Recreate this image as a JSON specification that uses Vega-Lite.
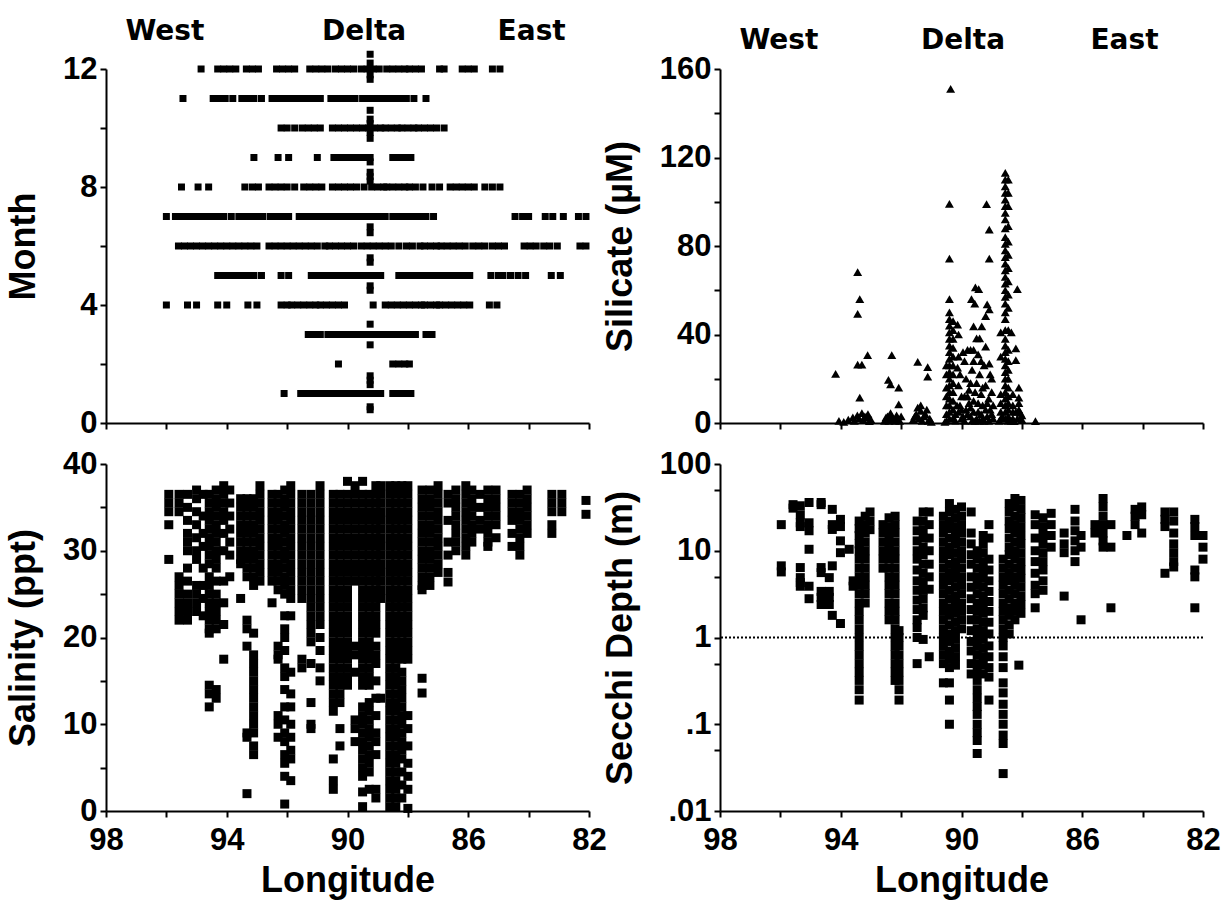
{
"$schema":"https://vega.github.io/schema/vega-lite/v6.json",
"padding":{"left":5,"top":17,"right":5,"bottom":5},
"background":"white",
"columns":2,
"bounds":"flush",
"spacing":{"row":41,"column":131},
"datasets":{
"regionsL":[{"lon":96.05,"label":"West"},{"lon":89.45,"label":"Delta"},{"lon":83.9,"label":"East"}],
"regionsR":[{"lon":96.05,"label":"West"},{"lon":89.95,"label":"Delta"},{"lon":84.6,"label":"East"}],
"refline":[{"v":1}],
"mon":[
{"lon":94.85,"v":12},{"lon":94.3,"v":12},{"lon":94.1,"v":12},{"lon":93.9,"v":12},{"lon":93.7,"v":12},{"lon":93.35,"v":12},{"lon":93.15,"v":12},{"lon":92.95,"v":12},{"lon":92.35,"v":12},{"lon":92.15,"v":12},{"lon":91.95,"v":12},{"lon":91.75,"v":12},{"lon":91.25,"v":12},{"lon":91.05,"v":12},{"lon":90.85,"v":12},{"lon":90.65,"v":12},{"lon":90.4,"v":12},{"lon":90.2,"v":12},{"lon":90.0,"v":12},{"lon":89.8,"v":12},{"lon":89.55,"v":12},{"lon":89.35,"v":12},{"lon":89.15,"v":12},{"lon":88.95,"v":12},{"lon":88.7,"v":12},{"lon":88.5,"v":12},{"lon":88.3,"v":12},{"lon":88.1,"v":12},{"lon":87.95,"v":12},{"lon":87.75,"v":12},{"lon":87.55,"v":12},{"lon":86.95,"v":12},{"lon":86.8,"v":12},{"lon":86.2,"v":12},{"lon":86.0,"v":12},{"lon":85.8,"v":12},{"lon":85.2,"v":12},{"lon":84.95,"v":12},
{"lon":95.45,"v":11},{"lon":94.45,"v":11},{"lon":94.25,"v":11},{"lon":94.05,"v":11},{"lon":93.8,"v":11},{"lon":93.5,"v":11},{"lon":93.3,"v":11},{"lon":93.1,"v":11},{"lon":92.85,"v":11},{"lon":92.5,"v":11},{"lon":92.3,"v":11},{"lon":92.1,"v":11},{"lon":91.9,"v":11},{"lon":91.7,"v":11},{"lon":91.5,"v":11},{"lon":91.3,"v":11},{"lon":91.1,"v":11},{"lon":90.9,"v":11},{"lon":90.55,"v":11},{"lon":90.35,"v":11},{"lon":90.15,"v":11},{"lon":89.95,"v":11},{"lon":89.75,"v":11},{"lon":89.5,"v":11},{"lon":89.3,"v":11},{"lon":89.1,"v":11},{"lon":88.95,"v":11},{"lon":88.85,"v":11},{"lon":88.65,"v":11},{"lon":88.45,"v":11},{"lon":88.25,"v":11},{"lon":88.05,"v":11},{"lon":87.8,"v":11},{"lon":87.4,"v":11},
{"lon":92.2,"v":10},{"lon":92.0,"v":10},{"lon":91.75,"v":10},{"lon":91.5,"v":10},{"lon":91.3,"v":10},{"lon":91.1,"v":10},{"lon":90.9,"v":10},{"lon":90.5,"v":10},{"lon":90.3,"v":10},{"lon":90.1,"v":10},{"lon":89.9,"v":10},{"lon":89.7,"v":10},{"lon":89.5,"v":10},{"lon":89.3,"v":10},{"lon":89.1,"v":10},{"lon":88.9,"v":10},{"lon":88.75,"v":10},{"lon":88.55,"v":10},{"lon":88.35,"v":10},{"lon":88.2,"v":10},{"lon":88.0,"v":10},{"lon":87.8,"v":10},{"lon":87.65,"v":10},{"lon":87.45,"v":10},{"lon":87.25,"v":10},{"lon":87.05,"v":10},{"lon":86.8,"v":10},
{"lon":93.1,"v":9},{"lon":92.3,"v":9},{"lon":91.95,"v":9},{"lon":91.0,"v":9},{"lon":90.45,"v":9},{"lon":90.25,"v":9},{"lon":90.05,"v":9},{"lon":89.85,"v":9},{"lon":89.65,"v":9},{"lon":89.45,"v":9},{"lon":89.25,"v":9},{"lon":88.5,"v":9},{"lon":88.3,"v":9},{"lon":88.1,"v":9},{"lon":87.9,"v":9},
{"lon":95.5,"v":8},{"lon":94.95,"v":8},{"lon":94.6,"v":8},{"lon":93.4,"v":8},{"lon":93.15,"v":8},{"lon":92.95,"v":8},{"lon":92.6,"v":8},{"lon":92.4,"v":8},{"lon":92.2,"v":8},{"lon":92.0,"v":8},{"lon":91.75,"v":8},{"lon":91.45,"v":8},{"lon":91.25,"v":8},{"lon":91.05,"v":8},{"lon":90.85,"v":8},{"lon":90.5,"v":8},{"lon":90.3,"v":8},{"lon":90.1,"v":8},{"lon":89.9,"v":8},{"lon":89.7,"v":8},{"lon":89.45,"v":8},{"lon":89.2,"v":8},{"lon":89.0,"v":8},{"lon":88.8,"v":8},{"lon":88.7,"v":8},{"lon":88.5,"v":8},{"lon":88.3,"v":8},{"lon":88.1,"v":8},{"lon":87.95,"v":8},{"lon":87.75,"v":8},{"lon":87.5,"v":8},{"lon":87.2,"v":8},{"lon":86.95,"v":8},{"lon":86.6,"v":8},{"lon":86.4,"v":8},{"lon":86.2,"v":8},{"lon":86.0,"v":8},{"lon":85.8,"v":8},{"lon":85.45,"v":8},{"lon":85.2,"v":8},{"lon":84.95,"v":8},
{"lon":96.0,"v":7},{"lon":95.7,"v":7},{"lon":95.5,"v":7},{"lon":95.3,"v":7},{"lon":95.1,"v":7},{"lon":94.9,"v":7},{"lon":94.7,"v":7},{"lon":94.5,"v":7},{"lon":94.3,"v":7},{"lon":94.1,"v":7},{"lon":93.85,"v":7},{"lon":93.6,"v":7},{"lon":93.4,"v":7},{"lon":93.2,"v":7},{"lon":93.0,"v":7},{"lon":92.8,"v":7},{"lon":92.55,"v":7},{"lon":92.35,"v":7},{"lon":92.15,"v":7},{"lon":91.95,"v":7},{"lon":91.6,"v":7},{"lon":91.4,"v":7},{"lon":91.2,"v":7},{"lon":91.0,"v":7},{"lon":90.8,"v":7},{"lon":90.6,"v":7},{"lon":90.45,"v":7},{"lon":90.25,"v":7},{"lon":90.05,"v":7},{"lon":89.85,"v":7},{"lon":89.65,"v":7},{"lon":89.5,"v":7},{"lon":89.3,"v":7},{"lon":89.1,"v":7},{"lon":88.95,"v":7},{"lon":88.75,"v":7},{"lon":88.5,"v":7},{"lon":88.3,"v":7},{"lon":88.1,"v":7},{"lon":87.9,"v":7},{"lon":87.75,"v":7},{"lon":87.6,"v":7},{"lon":87.4,"v":7},{"lon":87.15,"v":7},{"lon":84.45,"v":7},{"lon":84.2,"v":7},{"lon":84.0,"v":7},{"lon":83.45,"v":7},{"lon":83.2,"v":7},{"lon":82.85,"v":7},{"lon":82.35,"v":7},{"lon":82.1,"v":7},
{"lon":95.6,"v":6},{"lon":95.4,"v":6},{"lon":95.2,"v":6},{"lon":95.0,"v":6},{"lon":94.8,"v":6},{"lon":94.6,"v":6},{"lon":94.4,"v":6},{"lon":94.2,"v":6},{"lon":94.0,"v":6},{"lon":93.8,"v":6},{"lon":93.6,"v":6},{"lon":93.4,"v":6},{"lon":93.2,"v":6},{"lon":93.0,"v":6},{"lon":92.6,"v":6},{"lon":92.4,"v":6},{"lon":92.2,"v":6},{"lon":92.0,"v":6},{"lon":91.8,"v":6},{"lon":91.6,"v":6},{"lon":91.4,"v":6},{"lon":91.2,"v":6},{"lon":91.0,"v":6},{"lon":90.75,"v":6},{"lon":90.6,"v":6},{"lon":90.4,"v":6},{"lon":90.2,"v":6},{"lon":90.0,"v":6},{"lon":89.8,"v":6},{"lon":89.55,"v":6},{"lon":89.35,"v":6},{"lon":89.15,"v":6},{"lon":88.95,"v":6},{"lon":88.75,"v":6},{"lon":88.55,"v":6},{"lon":88.3,"v":6},{"lon":88.05,"v":6},{"lon":87.85,"v":6},{"lon":87.6,"v":6},{"lon":87.45,"v":6},{"lon":87.25,"v":6},{"lon":87.05,"v":6},{"lon":86.9,"v":6},{"lon":86.7,"v":6},{"lon":86.5,"v":6},{"lon":86.3,"v":6},{"lon":86.1,"v":6},{"lon":85.85,"v":6},{"lon":85.65,"v":6},{"lon":85.45,"v":6},{"lon":85.2,"v":6},{"lon":85.0,"v":6},{"lon":84.8,"v":6},{"lon":84.15,"v":6},{"lon":83.95,"v":6},{"lon":83.75,"v":6},{"lon":83.5,"v":6},{"lon":83.3,"v":6},{"lon":83.05,"v":6},{"lon":82.3,"v":6},{"lon":82.1,"v":6},
{"lon":94.3,"v":5},{"lon":94.1,"v":5},{"lon":93.9,"v":5},{"lon":93.7,"v":5},{"lon":93.5,"v":5},{"lon":93.3,"v":5},{"lon":93.1,"v":5},{"lon":92.85,"v":5},{"lon":92.2,"v":5},{"lon":91.95,"v":5},{"lon":91.2,"v":5},{"lon":91.0,"v":5},{"lon":90.85,"v":5},{"lon":90.65,"v":5},{"lon":90.5,"v":5},{"lon":90.3,"v":5},{"lon":90.1,"v":5},{"lon":89.9,"v":5},{"lon":89.7,"v":5},{"lon":89.5,"v":5},{"lon":89.3,"v":5},{"lon":89.1,"v":5},{"lon":88.9,"v":5},{"lon":88.3,"v":5},{"lon":88.1,"v":5},{"lon":87.9,"v":5},{"lon":87.7,"v":5},{"lon":87.5,"v":5},{"lon":87.3,"v":5},{"lon":87.1,"v":5},{"lon":86.95,"v":5},{"lon":86.75,"v":5},{"lon":86.55,"v":5},{"lon":86.35,"v":5},{"lon":86.15,"v":5},{"lon":85.95,"v":5},{"lon":85.25,"v":5},{"lon":85.0,"v":5},{"lon":84.85,"v":5},{"lon":84.6,"v":5},{"lon":84.35,"v":5},{"lon":84.1,"v":5},{"lon":83.25,"v":5},{"lon":82.95,"v":5},
{"lon":96.0,"v":4},{"lon":95.3,"v":4},{"lon":95.0,"v":4},{"lon":94.3,"v":4},{"lon":94.0,"v":4},{"lon":93.3,"v":4},{"lon":93.0,"v":4},{"lon":92.2,"v":4},{"lon":92.0,"v":4},{"lon":91.85,"v":4},{"lon":91.65,"v":4},{"lon":91.45,"v":4},{"lon":91.25,"v":4},{"lon":91.05,"v":4},{"lon":90.9,"v":4},{"lon":90.7,"v":4},{"lon":90.5,"v":4},{"lon":90.3,"v":4},{"lon":90.1,"v":4},{"lon":89.15,"v":4},{"lon":88.75,"v":4},{"lon":88.55,"v":4},{"lon":88.35,"v":4},{"lon":88.15,"v":4},{"lon":87.95,"v":4},{"lon":87.75,"v":4},{"lon":87.55,"v":4},{"lon":87.45,"v":4},{"lon":87.25,"v":4},{"lon":87.05,"v":4},{"lon":86.95,"v":4},{"lon":86.75,"v":4},{"lon":86.55,"v":4},{"lon":86.35,"v":4},{"lon":86.15,"v":4},{"lon":85.95,"v":4},{"lon":85.3,"v":4},{"lon":85.05,"v":4},
{"lon":91.3,"v":3},{"lon":91.1,"v":3},{"lon":90.9,"v":3},{"lon":90.65,"v":3},{"lon":90.45,"v":3},{"lon":90.25,"v":3},{"lon":90.05,"v":3},{"lon":89.95,"v":3},{"lon":89.75,"v":3},{"lon":89.6,"v":3},{"lon":89.5,"v":3},{"lon":89.3,"v":3},{"lon":89.1,"v":3},{"lon":88.9,"v":3},{"lon":88.8,"v":3},{"lon":88.6,"v":3},{"lon":88.4,"v":3},{"lon":88.3,"v":3},{"lon":88.1,"v":3},{"lon":87.9,"v":3},{"lon":87.75,"v":3},{"lon":87.4,"v":3},{"lon":87.2,"v":3},
{"lon":90.3,"v":2},{"lon":88.5,"v":2},{"lon":88.3,"v":2},{"lon":88.1,"v":2},{"lon":87.95,"v":2},
{"lon":92.1,"v":1},{"lon":91.55,"v":1},{"lon":91.35,"v":1},{"lon":91.15,"v":1},{"lon":90.95,"v":1},{"lon":90.8,"v":1},{"lon":90.6,"v":1},{"lon":90.45,"v":1},{"lon":90.25,"v":1},{"lon":90.05,"v":1},{"lon":89.85,"v":1},{"lon":89.65,"v":1},{"lon":89.45,"v":1},{"lon":89.3,"v":1},{"lon":89.1,"v":1},{"lon":88.9,"v":1},{"lon":88.5,"v":1},{"lon":88.3,"v":1},{"lon":88.1,"v":1},{"lon":87.9,"v":1},
{"lon":89.25,"v":12.5},{"lon":89.25,"v":12.2},{"lon":89.25,"v":11.8},{"lon":89.25,"v":11.65},{"lon":89.25,"v":10.6},{"lon":89.25,"v":10.3},{"lon":89.25,"v":10.15},{"lon":89.25,"v":9.85},{"lon":89.25,"v":9.65},{"lon":89.25,"v":8.85},{"lon":89.25,"v":8.5},{"lon":89.25,"v":8.35},{"lon":89.25,"v":8.2},{"lon":89.25,"v":6.65},{"lon":89.25,"v":6.45},{"lon":89.25,"v":5.6},{"lon":89.25,"v":5.45},{"lon":89.25,"v":4.65},{"lon":89.25,"v":4.5},{"lon":89.25,"v":3.35},{"lon":89.25,"v":2.65},{"lon":89.25,"v":1.6},{"lon":89.25,"v":1.45},{"lon":89.25,"v":1.3},{"lon":89.25,"v":0.55},{"lon":89.25,"v":0.45}
],
"sil":[
{"lon":94.17,"v":22.2},{"lon":94.06,"v":1.0},{"lon":93.9,"v":0.5},{"lon":93.75,"v":1.5},{"lon":93.6,"v":2.5},{"lon":93.45,"v":3.5},{"lon":93.3,"v":4.5},{"lon":93.2,"v":3.0},{"lon":93.1,"v":4.0},{"lon":93.0,"v":1.5},
{"lon":93.55,"v":1},{"lon":93.4,"v":2},{"lon":93.25,"v":1.5},{"lon":93.15,"v":2.5},{"lon":93.05,"v":0.8},
{"lon":93.44,"v":68.2},{"lon":93.37,"v":56},{"lon":93.44,"v":49.3},{"lon":93.44,"v":26.4},{"lon":93.3,"v":26.4},{"lon":93.11,"v":30.7},{"lon":93.37,"v":11.5},
{"lon":92.31,"v":30.7},{"lon":92.42,"v":19.5},{"lon":92.35,"v":17.5},{"lon":92.08,"v":16},{"lon":92.08,"v":8.4},{"lon":92.55,"v":1},{"lon":92.45,"v":3},{"lon":92.35,"v":4.5},{"lon":92.25,"v":2},{"lon":92.15,"v":3.5},{"lon":92.05,"v":1},
{"lon":92.5,"v":2.5},{"lon":92.4,"v":1},{"lon":92.3,"v":2.5},{"lon":92.2,"v":1},{"lon":92.1,"v":2},{"lon":92.0,"v":3},
{"lon":91.45,"v":27.6},{"lon":91.12,"v":25.3},{"lon":91.12,"v":21},{"lon":91.6,"v":1.5},{"lon":91.5,"v":4},{"lon":91.45,"v":7},{"lon":91.35,"v":5.5},{"lon":91.25,"v":3},{"lon":91.15,"v":6},{"lon":91.05,"v":2},{"lon":91.0,"v":0.5},
{"lon":91.55,"v":3},{"lon":91.4,"v":2},{"lon":91.3,"v":1},{"lon":91.2,"v":4},{"lon":91.1,"v":1},{"lon":91.35,"v":8},
{"lon":90.36,"v":151},{"lon":90.4,"v":99},{"lon":90.4,"v":74.3},{"lon":90.4,"v":56},{"lon":90.4,"v":50},{"lon":90.4,"v":47},{"lon":90.4,"v":44},{"lon":90.4,"v":41},{"lon":90.4,"v":38},{"lon":90.4,"v":35},{"lon":90.4,"v":32},{"lon":90.4,"v":29},{"lon":90.4,"v":26},{"lon":90.4,"v":23},{"lon":90.4,"v":20},{"lon":90.4,"v":17},{"lon":90.4,"v":14},{"lon":90.4,"v":11},{"lon":90.4,"v":8},{"lon":90.4,"v":5},{"lon":90.4,"v":2},
{"lon":90.5,"v":22},{"lon":90.5,"v":26},{"lon":90.5,"v":4},{"lon":90.5,"v":1},{"lon":90.5,"v":8},{"lon":90.5,"v":12},{"lon":90.5,"v":16},{"lon":90.55,"v":0.5},
{"lon":90.28,"v":46},{"lon":90.28,"v":42},{"lon":90.28,"v":38},{"lon":90.28,"v":34},{"lon":90.28,"v":30},{"lon":90.28,"v":26},{"lon":90.28,"v":22},{"lon":90.28,"v":18},{"lon":90.28,"v":14},{"lon":90.28,"v":10},{"lon":90.28,"v":6},{"lon":90.28,"v":2},
{"lon":90.13,"v":44.5},{"lon":90.1,"v":40},{"lon":90.1,"v":30},{"lon":90.13,"v":25},{"lon":90.05,"v":22},{"lon":90.1,"v":17},{"lon":90.0,"v":12},{"lon":90.05,"v":8},{"lon":90.1,"v":5},{"lon":90.0,"v":2},{"lon":89.95,"v":32},{"lon":89.9,"v":28},
{"lon":90.2,"v":1},{"lon":90.2,"v":4},{"lon":90.15,"v":8},{"lon":90.0,"v":6},{"lon":89.95,"v":3},{"lon":89.9,"v":1},{"lon":89.8,"v":4},{"lon":89.7,"v":7},{"lon":89.65,"v":1},{"lon":89.6,"v":5},{"lon":89.5,"v":2},{"lon":89.4,"v":1},{"lon":89.35,"v":4},{"lon":89.3,"v":2},{"lon":89.2,"v":6},{"lon":89.1,"v":1},{"lon":89.0,"v":4},{"lon":89.8,"v":12},{"lon":89.7,"v":18},{"lon":89.55,"v":14},{"lon":89.45,"v":9},{"lon":89.3,"v":16},{"lon":89.15,"v":9},{"lon":89.05,"v":22},{"lon":88.95,"v":8},
{"lon":89.8,"v":33},{"lon":89.7,"v":33},{"lon":89.6,"v":33},{"lon":89.54,"v":61.3},{"lon":89.43,"v":60.5},{"lon":89.67,"v":56},{"lon":89.56,"v":54},{"lon":89.6,"v":43.7},{"lon":89.5,"v":38.3},
{"lon":89.17,"v":98.9},{"lon":89.08,"v":87.4},{"lon":89.08,"v":74.3},{"lon":89.15,"v":53.6},{"lon":89.08,"v":51.3},{"lon":89.2,"v":48.3},{"lon":89.33,"v":43.7},{"lon":89.4,"v":38.3},{"lon":89.2,"v":34.5},{"lon":89.25,"v":26},{"lon":89.08,"v":26.8},
{"lon":89.85,"v":20},{"lon":89.75,"v":15},{"lon":89.65,"v":24},{"lon":89.6,"v":10},{"lon":89.5,"v":18},{"lon":89.45,"v":5},{"lon":89.4,"v":22},{"lon":89.35,"v":13},{"lon":89.3,"v":8},{"lon":89.2,"v":17},{"lon":89.15,"v":3},{"lon":89.1,"v":11},{"lon":89.05,"v":6},{"lon":89.0,"v":14},{"lon":88.95,"v":2},{"lon":89.85,"v":6},{"lon":89.7,"v":3},{"lon":89.55,"v":1},{"lon":89.9,"v":12},{"lon":89.35,"v":28},{"lon":89.6,"v":28},{"lon":89.45,"v":31},{"lon":89.0,"v":20},{"lon":89.25,"v":1},{"lon":89.75,"v":9},
{"lon":88.55,"v":113},{"lon":88.55,"v":110},{"lon":88.55,"v":107},{"lon":88.55,"v":104},{"lon":88.55,"v":101},{"lon":88.55,"v":98},{"lon":88.55,"v":95},{"lon":88.55,"v":92},{"lon":88.55,"v":88},{"lon":88.55,"v":84},{"lon":88.55,"v":81},{"lon":88.55,"v":78},{"lon":88.55,"v":75},{"lon":88.55,"v":72},{"lon":88.55,"v":69},{"lon":88.55,"v":66},{"lon":88.55,"v":63},{"lon":88.55,"v":60},{"lon":88.55,"v":57},{"lon":88.55,"v":54},{"lon":88.55,"v":50},{"lon":88.55,"v":47},{"lon":88.55,"v":42},{"lon":88.55,"v":38},{"lon":88.55,"v":35},{"lon":88.55,"v":32},{"lon":88.55,"v":29},{"lon":88.55,"v":26},{"lon":88.55,"v":23},{"lon":88.55,"v":20},{"lon":88.55,"v":17},{"lon":88.55,"v":14},{"lon":88.55,"v":11},{"lon":88.55,"v":8},{"lon":88.55,"v":5},{"lon":88.55,"v":2},
{"lon":88.45,"v":110},{"lon":88.45,"v":104},{"lon":88.45,"v":98},{"lon":88.45,"v":89},{"lon":88.45,"v":82},{"lon":88.45,"v":76},{"lon":88.45,"v":70},{"lon":88.45,"v":64},{"lon":88.45,"v":58},{"lon":88.45,"v":52},{"lon":88.45,"v":42},{"lon":88.45,"v":33},{"lon":88.45,"v":28},{"lon":88.45,"v":24},{"lon":88.45,"v":20},{"lon":88.45,"v":16},{"lon":88.45,"v":12},{"lon":88.45,"v":9},{"lon":88.45,"v":6},{"lon":88.45,"v":3},{"lon":88.45,"v":1},
{"lon":88.7,"v":13},{"lon":88.7,"v":9},{"lon":88.7,"v":5},{"lon":88.7,"v":2},{"lon":88.7,"v":30},{"lon":88.7,"v":41},
{"lon":88.75,"v":1},{"lon":88.65,"v":3},{"lon":88.35,"v":1},{"lon":88.3,"v":5},{"lon":88.25,"v":0.8},{"lon":88.15,"v":2},{"lon":88.1,"v":6},{"lon":88.0,"v":3.5},{"lon":88.1,"v":9},
{"lon":88.2,"v":33.7},{"lon":88.2,"v":28.4},{"lon":88.1,"v":16},{"lon":88.1,"v":11.5},{"lon":88.3,"v":8},{"lon":88.2,"v":5},{"lon":88.05,"v":4.6},{"lon":88.0,"v":1.5},{"lon":88.3,"v":2},{"lon":88.15,"v":60.5},{"lon":88.35,"v":41},{"lon":88.3,"v":13},{"lon":87.55,"v":0.8}
],
"sal":[
{"lon":95.92,"v":36.5},{"lon":95.92,"v":35.5},{"lon":95.92,"v":34.5},{"lon":95.92,"v":33},{"lon":95.92,"v":29},
{"lon":95.58,"v":36.5},{"lon":95.58,"v":35.5},{"lon":95.58,"v":34.5},{"lon":95.58,"v":27},{"lon":95.58,"v":26},{"lon":95.58,"v":25},{"lon":95.58,"v":24},{"lon":95.58,"v":23},{"lon":95.58,"v":22},
{"lon":95.3,"v":36.5},{"lon":95.3,"v":35},{"lon":95.3,"v":33.5},{"lon":95.3,"v":32},{"lon":95.3,"v":31},{"lon":95.3,"v":30},{"lon":95.3,"v":28},{"lon":95.3,"v":26.5},{"lon":95.3,"v":25},{"lon":95.3,"v":24},{"lon":95.3,"v":23},{"lon":95.3,"v":22},
{"lon":95.0,"v":37},{"lon":95.0,"v":36},{"lon":95.0,"v":34.5},{"lon":95.0,"v":33},{"lon":95.0,"v":31.5},{"lon":95.0,"v":30},{"lon":95.0,"v":29},{"lon":95.0,"v":26},{"lon":95.0,"v":25},{"lon":95.0,"v":24},{"lon":95.0,"v":23},
{"lon":94.78,"v":36.5},{"lon":94.78,"v":34},{"lon":94.78,"v":32},{"lon":94.78,"v":30.5},{"lon":94.78,"v":28},{"lon":94.78,"v":26},{"lon":94.78,"v":24.5},{"lon":94.78,"v":22.5},
{"lon":94.58,"v":36.5},{"lon":94.58,"v":35.5},{"lon":94.58,"v":34.5},{"lon":94.58,"v":33.5},{"lon":94.58,"v":32.5},{"lon":94.58,"v":31.5},{"lon":94.58,"v":30.5},{"lon":94.58,"v":29.5},{"lon":94.58,"v":28.5},{"lon":94.58,"v":27},{"lon":94.58,"v":26},{"lon":94.58,"v":25},{"lon":94.58,"v":24},{"lon":94.58,"v":23},{"lon":94.58,"v":22},{"lon":94.58,"v":21},{"lon":94.58,"v":20.5},{"lon":94.58,"v":14.5},{"lon":94.58,"v":13.5},{"lon":94.58,"v":12},
{"lon":94.35,"v":37},{"lon":94.35,"v":36},{"lon":94.35,"v":35},{"lon":94.35,"v":34},{"lon":94.35,"v":33},{"lon":94.35,"v":32},{"lon":94.35,"v":31},{"lon":94.35,"v":30},{"lon":94.35,"v":29},{"lon":94.35,"v":28},{"lon":94.35,"v":26.5},{"lon":94.35,"v":25},{"lon":94.35,"v":24},{"lon":94.35,"v":23},{"lon":94.35,"v":22},{"lon":94.35,"v":21},{"lon":94.35,"v":14},{"lon":94.35,"v":13},
{"lon":94.1,"v":37.5},{"lon":94.1,"v":36.5},{"lon":94.1,"v":35.5},{"lon":94.1,"v":34.5},{"lon":94.1,"v":33.5},{"lon":94.1,"v":32},{"lon":94.1,"v":30},{"lon":94.1,"v":26.5},{"lon":94.1,"v":24},{"lon":94.1,"v":21.5},{"lon":94.1,"v":17.5},
{"lon":93.9,"v":37},{"lon":93.9,"v":35.5},{"lon":93.9,"v":34},{"lon":93.9,"v":32.5},{"lon":93.9,"v":31},{"lon":93.9,"v":29.5},{"lon":93.9,"v":27},
{"lon":93.54,"v":36},{"lon":93.54,"v":35},{"lon":93.54,"v":34},{"lon":93.54,"v":33},{"lon":93.54,"v":32},{"lon":93.54,"v":31},{"lon":93.54,"v":30},{"lon":93.54,"v":29},{"lon":93.54,"v":28.5},{"lon":93.54,"v":24.5},
{"lon":93.33,"v":36},{"lon":93.33,"v":35},{"lon":93.33,"v":34},{"lon":93.33,"v":33},{"lon":93.33,"v":32},{"lon":93.33,"v":31},{"lon":93.33,"v":30},{"lon":93.33,"v":29},{"lon":93.33,"v":28},{"lon":93.33,"v":27},{"lon":93.33,"v":22},{"lon":93.33,"v":21},{"lon":93.33,"v":19},{"lon":93.33,"v":9},{"lon":93.33,"v":8.5},{"lon":93.33,"v":2},
{"lon":93.11,"v":36},{"lon":93.11,"v":35},{"lon":93.11,"v":34},{"lon":93.11,"v":33},{"lon":93.11,"v":32},{"lon":93.11,"v":31},{"lon":93.11,"v":30},{"lon":93.11,"v":29},{"lon":93.11,"v":28},{"lon":93.11,"v":27},{"lon":93.11,"v":26},{"lon":93.11,"v":20.5},{"lon":93.11,"v":18},{"lon":93.11,"v":17},{"lon":93.11,"v":16},{"lon":93.11,"v":15},{"lon":93.11,"v":14},{"lon":93.11,"v":13},{"lon":93.11,"v":12},{"lon":93.11,"v":11},{"lon":93.11,"v":10},{"lon":93.11,"v":9},{"lon":93.11,"v":7.5},{"lon":93.11,"v":6.5},
{"lon":92.9,"v":37.5},{"lon":92.9,"v":36.5},{"lon":92.9,"v":35.5},{"lon":92.9,"v":34.5},{"lon":92.9,"v":33.5},{"lon":92.9,"v":32.5},{"lon":92.9,"v":31.5},{"lon":92.9,"v":30.5},{"lon":92.9,"v":29.5},{"lon":92.9,"v":28.5},{"lon":92.9,"v":27.5},{"lon":92.9,"v":26.5},
{"lon":92.5,"v":36.5},{"lon":92.5,"v":35.5},{"lon":92.5,"v":34.5},{"lon":92.5,"v":33.5},{"lon":92.5,"v":32.5},{"lon":92.5,"v":31.5},{"lon":92.5,"v":30.5},{"lon":92.5,"v":29.5},{"lon":92.5,"v":28.5},{"lon":92.5,"v":27.5},{"lon":92.5,"v":26.5},{"lon":92.5,"v":24},
{"lon":92.3,"v":36.5},{"lon":92.3,"v":35.5},{"lon":92.3,"v":34.5},{"lon":92.3,"v":33.5},{"lon":92.3,"v":32.5},{"lon":92.3,"v":31.5},{"lon":92.3,"v":30.5},{"lon":92.3,"v":29.5},{"lon":92.3,"v":28.5},{"lon":92.3,"v":27.5},{"lon":92.3,"v":26.5},{"lon":92.3,"v":25.5},{"lon":92.3,"v":19},{"lon":92.3,"v":18},{"lon":92.3,"v":17.5},{"lon":92.3,"v":11},{"lon":92.3,"v":10},{"lon":92.3,"v":8.5},
{"lon":92.08,"v":37},{"lon":92.08,"v":36},{"lon":92.08,"v":35},{"lon":92.08,"v":34},{"lon":92.08,"v":33},{"lon":92.08,"v":32},{"lon":92.08,"v":31},{"lon":92.08,"v":30},{"lon":92.08,"v":29},{"lon":92.08,"v":28},{"lon":92.08,"v":27},{"lon":92.08,"v":26},{"lon":92.08,"v":25},{"lon":92.08,"v":22.5},{"lon":92.08,"v":21},{"lon":92.08,"v":20},{"lon":92.08,"v":18.5},{"lon":92.08,"v":16.5},{"lon":92.08,"v":15.5},{"lon":92.08,"v":14},{"lon":92.08,"v":12},{"lon":92.08,"v":10.5},{"lon":92.08,"v":9},{"lon":92.08,"v":8},{"lon":92.08,"v":6.5},{"lon":92.08,"v":5.5},{"lon":92.08,"v":4},{"lon":92.08,"v":0.8},
{"lon":91.88,"v":37.5},{"lon":91.88,"v":36.5},{"lon":91.88,"v":35.5},{"lon":91.88,"v":34.5},{"lon":91.88,"v":33.5},{"lon":91.88,"v":32.5},{"lon":91.88,"v":31.5},{"lon":91.88,"v":30.5},{"lon":91.88,"v":29.5},{"lon":91.88,"v":28.5},{"lon":91.88,"v":27.5},{"lon":91.88,"v":26.5},{"lon":91.88,"v":25.5},{"lon":91.88,"v":24.5},{"lon":91.88,"v":22.5},{"lon":91.88,"v":16},{"lon":91.88,"v":13.5},{"lon":91.88,"v":12},{"lon":91.88,"v":10},{"lon":91.88,"v":8.5},{"lon":91.88,"v":7},{"lon":91.88,"v":6},{"lon":91.88,"v":3.5},
{"lon":91.51,"v":36.5},{"lon":91.51,"v":35.5},{"lon":91.51,"v":34.5},{"lon":91.51,"v":33.5},{"lon":91.51,"v":32.5},{"lon":91.51,"v":31.5},{"lon":91.51,"v":30.5},{"lon":91.51,"v":29.5},{"lon":91.51,"v":28.5},{"lon":91.51,"v":27.5},{"lon":91.51,"v":26.5},{"lon":91.51,"v":25.5},{"lon":91.51,"v":24.5},{"lon":91.51,"v":17.5},{"lon":91.51,"v":16.5},
{"lon":91.21,"v":36.5},{"lon":91.21,"v":35.5},{"lon":91.21,"v":34.5},{"lon":91.21,"v":33.5},{"lon":91.21,"v":32.5},{"lon":91.21,"v":31.5},{"lon":91.21,"v":30.5},{"lon":91.21,"v":29.5},{"lon":91.21,"v":28.5},{"lon":91.21,"v":27.5},{"lon":91.21,"v":26.5},{"lon":91.21,"v":25.5},{"lon":91.21,"v":24.5},{"lon":91.21,"v":23.5},{"lon":91.21,"v":22.5},{"lon":91.21,"v":21.5},{"lon":91.21,"v":20.5},{"lon":91.21,"v":19.5},{"lon":91.21,"v":17},{"lon":91.21,"v":12.5},{"lon":91.21,"v":10},{"lon":91.21,"v":9.5},
{"lon":90.91,"v":37.5},{"lon":90.91,"v":36.5},{"lon":90.91,"v":35.5},{"lon":90.91,"v":34.5},{"lon":90.91,"v":33.5},{"lon":90.91,"v":32.5},{"lon":90.91,"v":31.5},{"lon":90.91,"v":30.5},{"lon":90.91,"v":29.5},{"lon":90.91,"v":28.5},{"lon":90.91,"v":27.5},{"lon":90.91,"v":26.5},{"lon":90.91,"v":25.5},{"lon":90.91,"v":24.5},{"lon":90.91,"v":23.5},{"lon":90.91,"v":22.5},{"lon":90.91,"v":21.5},{"lon":90.91,"v":20},{"lon":90.91,"v":18.5},{"lon":90.91,"v":16.5},{"lon":90.91,"v":15},
{"lon":90.47,"v":36.5},{"lon":90.47,"v":35.5},{"lon":90.47,"v":34.5},{"lon":90.47,"v":33.5},{"lon":90.47,"v":32.5},{"lon":90.47,"v":31.5},{"lon":90.47,"v":30.5},{"lon":90.47,"v":29.5},{"lon":90.47,"v":28.5},{"lon":90.47,"v":27.5},{"lon":90.47,"v":26.5},{"lon":90.47,"v":25.5},{"lon":90.47,"v":24.5},{"lon":90.47,"v":23.5},{"lon":90.47,"v":22.5},{"lon":90.47,"v":21.5},{"lon":90.47,"v":20.5},{"lon":90.47,"v":19.5},{"lon":90.47,"v":18.5},{"lon":90.47,"v":17.5},{"lon":90.47,"v":16.5},{"lon":90.47,"v":15.5},{"lon":90.47,"v":14.5},{"lon":90.47,"v":13.5},{"lon":90.47,"v":12.5},{"lon":90.47,"v":11.5},{"lon":90.47,"v":6},{"lon":90.47,"v":3.5},{"lon":90.47,"v":2.5},
{"lon":90.25,"v":36.5},{"lon":90.25,"v":35.5},{"lon":90.25,"v":34.5},{"lon":90.25,"v":33.5},{"lon":90.25,"v":32.5},{"lon":90.25,"v":31.5},{"lon":90.25,"v":30.5},{"lon":90.25,"v":29.5},{"lon":90.25,"v":28.5},{"lon":90.25,"v":27.5},{"lon":90.25,"v":26.5},{"lon":90.25,"v":25.5},{"lon":90.25,"v":24.5},{"lon":90.25,"v":23.5},{"lon":90.25,"v":22.5},{"lon":90.25,"v":21.5},{"lon":90.25,"v":20.5},{"lon":90.25,"v":19.5},{"lon":90.25,"v":18.5},{"lon":90.25,"v":17.5},{"lon":90.25,"v":16.5},{"lon":90.25,"v":15.5},{"lon":90.25,"v":14.5},{"lon":90.25,"v":13.5},{"lon":90.25,"v":12.5},{"lon":90.25,"v":9.5},{"lon":90.25,"v":7.5},
{"lon":90.0,"v":38},{"lon":90.0,"v":36.5},{"lon":90.0,"v":35.5},{"lon":90.0,"v":34.5},{"lon":90.0,"v":33.5},{"lon":90.0,"v":32.5},{"lon":90.0,"v":31.5},{"lon":90.0,"v":30.5},{"lon":90.0,"v":29.5},{"lon":90.0,"v":28.5},{"lon":90.0,"v":27.5},{"lon":90.0,"v":26.5},{"lon":90.0,"v":25.5},{"lon":90.0,"v":24.5},{"lon":90.0,"v":23.5},{"lon":90.0,"v":22.5},{"lon":90.0,"v":21.5},{"lon":90.0,"v":20.5},{"lon":90.0,"v":19.5},{"lon":90.0,"v":18.5},{"lon":90.0,"v":17.5},{"lon":90.0,"v":16.5},{"lon":90.0,"v":15.5},{"lon":90.0,"v":14.5},
{"lon":89.75,"v":37.5},{"lon":89.75,"v":36.5},{"lon":89.75,"v":35.5},{"lon":89.75,"v":34.5},{"lon":89.75,"v":33.5},{"lon":89.75,"v":32.5},{"lon":89.75,"v":31.5},{"lon":89.75,"v":30.5},{"lon":89.75,"v":29.5},{"lon":89.75,"v":28.5},{"lon":89.75,"v":27.5},{"lon":89.75,"v":26.5},{"lon":89.75,"v":19},{"lon":89.75,"v":18},{"lon":89.75,"v":16},{"lon":89.75,"v":10.5},{"lon":89.75,"v":9.5},{"lon":89.75,"v":8},
{"lon":89.5,"v":38},{"lon":89.5,"v":36.5},{"lon":89.5,"v":35.5},{"lon":89.5,"v":34.5},{"lon":89.5,"v":33.5},{"lon":89.5,"v":32.5},{"lon":89.5,"v":31.5},{"lon":89.5,"v":30.5},{"lon":89.5,"v":29.5},{"lon":89.5,"v":28.5},{"lon":89.5,"v":27.5},{"lon":89.5,"v":26.5},{"lon":89.5,"v":25.5},{"lon":89.5,"v":24.5},{"lon":89.5,"v":23.5},{"lon":89.5,"v":22.5},{"lon":89.5,"v":21.5},{"lon":89.5,"v":20.5},{"lon":89.5,"v":19.5},{"lon":89.5,"v":18.5},{"lon":89.5,"v":17.5},{"lon":89.5,"v":16.5},{"lon":89.5,"v":15.5},{"lon":89.5,"v":14.5},{"lon":89.5,"v":12},{"lon":89.5,"v":11},{"lon":89.5,"v":10},{"lon":89.5,"v":9},{"lon":89.5,"v":8},{"lon":89.5,"v":7},{"lon":89.5,"v":6},{"lon":89.5,"v":5},{"lon":89.5,"v":4},{"lon":89.5,"v":2.2},{"lon":89.5,"v":0.5},
{"lon":89.28,"v":36.5},{"lon":89.28,"v":35.5},{"lon":89.28,"v":34.5},{"lon":89.28,"v":33.5},{"lon":89.28,"v":32.5},{"lon":89.28,"v":31.5},{"lon":89.28,"v":30.5},{"lon":89.28,"v":29.5},{"lon":89.28,"v":28.5},{"lon":89.28,"v":27.5},{"lon":89.28,"v":26.5},{"lon":89.28,"v":25.5},{"lon":89.28,"v":24.5},{"lon":89.28,"v":23.5},{"lon":89.28,"v":22.5},{"lon":89.28,"v":21.5},{"lon":89.28,"v":20.5},{"lon":89.28,"v":19.5},{"lon":89.28,"v":18.5},{"lon":89.28,"v":17.5},{"lon":89.28,"v":16.5},{"lon":89.28,"v":15.5},{"lon":89.28,"v":14.5},{"lon":89.28,"v":12.5},{"lon":89.28,"v":11.5},{"lon":89.28,"v":10.5},{"lon":89.28,"v":9.5},{"lon":89.28,"v":8.5},{"lon":89.28,"v":7.5},{"lon":89.28,"v":6.5},{"lon":89.28,"v":5.5},{"lon":89.28,"v":4.5},{"lon":89.28,"v":2.5},
{"lon":89.06,"v":37.5},{"lon":89.06,"v":36.5},{"lon":89.06,"v":35.5},{"lon":89.06,"v":34.5},{"lon":89.06,"v":33.5},{"lon":89.06,"v":32.5},{"lon":89.06,"v":31.5},{"lon":89.06,"v":30.5},{"lon":89.06,"v":29.5},{"lon":89.06,"v":28.5},{"lon":89.06,"v":27.5},{"lon":89.06,"v":26.5},{"lon":89.06,"v":25.5},{"lon":89.06,"v":24.5},{"lon":89.06,"v":23.5},{"lon":89.06,"v":22.5},{"lon":89.06,"v":21.5},{"lon":89.06,"v":20.5},{"lon":89.06,"v":19},{"lon":89.06,"v":18},{"lon":89.06,"v":17},{"lon":89.06,"v":15},{"lon":89.06,"v":13},{"lon":89.06,"v":11},{"lon":89.06,"v":9},{"lon":89.06,"v":8},{"lon":89.06,"v":6.5},{"lon":89.06,"v":2.5},{"lon":89.06,"v":1.5},
{"lon":88.9,"v":37.5},{"lon":88.9,"v":36.5},{"lon":88.9,"v":35.5},{"lon":88.9,"v":34.5},{"lon":88.9,"v":33.5},{"lon":88.9,"v":32.5},{"lon":88.9,"v":31.5},{"lon":88.9,"v":30.5},{"lon":88.9,"v":29.5},{"lon":88.9,"v":28.5},{"lon":88.9,"v":27.5},{"lon":88.9,"v":26.5},{"lon":88.9,"v":25.5},{"lon":88.9,"v":24.5},{"lon":88.9,"v":13},
{"lon":88.6,"v":37.5},{"lon":88.6,"v":36.5},{"lon":88.6,"v":35.5},{"lon":88.6,"v":34.5},{"lon":88.6,"v":33.5},{"lon":88.6,"v":32.5},{"lon":88.6,"v":31.5},{"lon":88.6,"v":30.5},{"lon":88.6,"v":29.5},{"lon":88.6,"v":28.5},{"lon":88.6,"v":27.5},{"lon":88.6,"v":26.5},{"lon":88.6,"v":25.5},{"lon":88.6,"v":24.5},{"lon":88.6,"v":23.5},{"lon":88.6,"v":22.5},{"lon":88.6,"v":21.5},{"lon":88.6,"v":20.5},{"lon":88.6,"v":19.5},{"lon":88.6,"v":18.5},{"lon":88.6,"v":17.5},{"lon":88.6,"v":16.5},{"lon":88.6,"v":15.5},{"lon":88.6,"v":14.5},{"lon":88.6,"v":13.5},{"lon":88.6,"v":12.5},{"lon":88.6,"v":11.5},{"lon":88.6,"v":10.5},{"lon":88.6,"v":9.5},{"lon":88.6,"v":8.5},{"lon":88.6,"v":7.5},{"lon":88.6,"v":6.5},{"lon":88.6,"v":5.5},{"lon":88.6,"v":4.5},{"lon":88.6,"v":3.5},{"lon":88.6,"v":2.5},{"lon":88.6,"v":1.5},{"lon":88.6,"v":0.5},
{"lon":88.4,"v":37.5},{"lon":88.4,"v":36.5},{"lon":88.4,"v":35.5},{"lon":88.4,"v":34.5},{"lon":88.4,"v":33.5},{"lon":88.4,"v":32.5},{"lon":88.4,"v":31.5},{"lon":88.4,"v":30.5},{"lon":88.4,"v":29.5},{"lon":88.4,"v":28.5},{"lon":88.4,"v":27.5},{"lon":88.4,"v":26.5},{"lon":88.4,"v":25.5},{"lon":88.4,"v":24.5},{"lon":88.4,"v":23.5},{"lon":88.4,"v":22.5},{"lon":88.4,"v":21.5},{"lon":88.4,"v":20.5},{"lon":88.4,"v":19.5},{"lon":88.4,"v":18.5},{"lon":88.4,"v":17.5},{"lon":88.4,"v":16.5},{"lon":88.4,"v":15.5},{"lon":88.4,"v":14.5},{"lon":88.4,"v":13.5},{"lon":88.4,"v":12.5},{"lon":88.4,"v":11.5},{"lon":88.4,"v":10.5},{"lon":88.4,"v":9.5},{"lon":88.4,"v":8.5},{"lon":88.4,"v":7.5},{"lon":88.4,"v":6.5},{"lon":88.4,"v":5.5},{"lon":88.4,"v":4.5},{"lon":88.4,"v":3.5},{"lon":88.4,"v":2.5},{"lon":88.4,"v":1.5},{"lon":88.4,"v":0.5},
{"lon":88.2,"v":37.5},{"lon":88.2,"v":36.5},{"lon":88.2,"v":35.5},{"lon":88.2,"v":34.5},{"lon":88.2,"v":33.5},{"lon":88.2,"v":32.5},{"lon":88.2,"v":31.5},{"lon":88.2,"v":30.5},{"lon":88.2,"v":29.5},{"lon":88.2,"v":28.5},{"lon":88.2,"v":27.5},{"lon":88.2,"v":26.5},{"lon":88.2,"v":25.5},{"lon":88.2,"v":24.5},{"lon":88.2,"v":23.5},{"lon":88.2,"v":22.5},{"lon":88.2,"v":21.5},{"lon":88.2,"v":20.5},{"lon":88.2,"v":19.5},{"lon":88.2,"v":18.5},{"lon":88.2,"v":17.5},{"lon":88.2,"v":16},{"lon":88.2,"v":15},{"lon":88.2,"v":14},{"lon":88.2,"v":13},{"lon":88.2,"v":12},{"lon":88.2,"v":11},{"lon":88.2,"v":10},{"lon":88.2,"v":9},{"lon":88.2,"v":8},{"lon":88.2,"v":7},{"lon":88.2,"v":6},{"lon":88.2,"v":4.5},{"lon":88.2,"v":3},{"lon":88.2,"v":1.5},
{"lon":88.0,"v":37.5},{"lon":88.0,"v":36.5},{"lon":88.0,"v":35.5},{"lon":88.0,"v":34.5},{"lon":88.0,"v":33.5},{"lon":88.0,"v":32.5},{"lon":88.0,"v":31.5},{"lon":88.0,"v":30.5},{"lon":88.0,"v":29.5},{"lon":88.0,"v":28.5},{"lon":88.0,"v":27.5},{"lon":88.0,"v":26.5},{"lon":88.0,"v":25.5},{"lon":88.0,"v":24.5},{"lon":88.0,"v":23.5},{"lon":88.0,"v":22.5},{"lon":88.0,"v":21.5},{"lon":88.0,"v":20.5},{"lon":88.0,"v":19.5},{"lon":88.0,"v":18.5},{"lon":88.0,"v":17.5},{"lon":88.0,"v":11},{"lon":88.0,"v":9.5},{"lon":88.0,"v":7.5},{"lon":88.0,"v":5.5},{"lon":88.0,"v":4},{"lon":88.0,"v":2.5},{"lon":88.0,"v":0.3},
{"lon":87.53,"v":37},{"lon":87.53,"v":36},{"lon":87.53,"v":35},{"lon":87.53,"v":34},{"lon":87.53,"v":33},{"lon":87.53,"v":32},{"lon":87.53,"v":31},{"lon":87.53,"v":30},{"lon":87.53,"v":29},{"lon":87.53,"v":28},{"lon":87.53,"v":27},{"lon":87.53,"v":26},{"lon":87.53,"v":25.5},{"lon":87.53,"v":15.3},{"lon":87.53,"v":13.6},
{"lon":87.27,"v":37},{"lon":87.27,"v":36},{"lon":87.27,"v":35},{"lon":87.27,"v":34},{"lon":87.27,"v":33},{"lon":87.27,"v":32},{"lon":87.27,"v":31},{"lon":87.27,"v":30},{"lon":87.27,"v":29},{"lon":87.27,"v":28},{"lon":87.27,"v":27},{"lon":87.27,"v":26},
{"lon":87.0,"v":37.5},{"lon":87.0,"v":36.5},{"lon":87.0,"v":35.5},{"lon":87.0,"v":34.5},{"lon":87.0,"v":33.5},{"lon":87.0,"v":32.5},{"lon":87.0,"v":31.5},{"lon":87.0,"v":30.5},{"lon":87.0,"v":29.5},{"lon":87.0,"v":28.5},{"lon":87.0,"v":27.5},
{"lon":86.67,"v":36.5},{"lon":86.67,"v":35.5},{"lon":86.67,"v":33.5},{"lon":86.67,"v":31},{"lon":86.67,"v":29.5},{"lon":86.67,"v":27.5},{"lon":86.67,"v":26.4},
{"lon":86.41,"v":37},{"lon":86.41,"v":36},{"lon":86.41,"v":35},{"lon":86.41,"v":34},{"lon":86.41,"v":33},{"lon":86.41,"v":32},{"lon":86.41,"v":31},{"lon":86.41,"v":30},
{"lon":86.08,"v":37.5},{"lon":86.08,"v":36.5},{"lon":86.08,"v":35.5},{"lon":86.08,"v":34.5},{"lon":86.08,"v":33.5},{"lon":86.08,"v":32.5},{"lon":86.08,"v":31.5},{"lon":86.08,"v":30.5},{"lon":86.08,"v":29.5},
{"lon":85.88,"v":37},{"lon":85.88,"v":36},{"lon":85.88,"v":35},{"lon":85.88,"v":34},{"lon":85.88,"v":33},{"lon":85.88,"v":32},{"lon":85.88,"v":31},
{"lon":85.61,"v":36.5},{"lon":85.61,"v":35},{"lon":85.61,"v":33.5},{"lon":85.61,"v":32.5},
{"lon":85.35,"v":37},{"lon":85.35,"v":36},{"lon":85.35,"v":35},{"lon":85.35,"v":34},{"lon":85.35,"v":33},{"lon":85.35,"v":32},{"lon":85.35,"v":31},{"lon":85.35,"v":30.5},
{"lon":85.08,"v":37},{"lon":85.08,"v":36},{"lon":85.08,"v":35},{"lon":85.08,"v":34},{"lon":85.08,"v":33},{"lon":85.08,"v":31.5},
{"lon":84.55,"v":36.5},{"lon":84.55,"v":35.5},{"lon":84.55,"v":34.5},{"lon":84.55,"v":33.5},{"lon":84.55,"v":32},{"lon":84.55,"v":30.5},
{"lon":84.29,"v":36.5},{"lon":84.29,"v":35.5},{"lon":84.29,"v":34.5},{"lon":84.29,"v":33.5},{"lon":84.29,"v":32.5},{"lon":84.29,"v":31.5},{"lon":84.29,"v":30.5},{"lon":84.29,"v":29.5},
{"lon":84.05,"v":37},{"lon":84.05,"v":36},{"lon":84.05,"v":35},{"lon":84.05,"v":34},{"lon":84.05,"v":33},{"lon":84.05,"v":32},
{"lon":83.23,"v":36.5},{"lon":83.23,"v":35.5},{"lon":83.23,"v":34.5},{"lon":83.23,"v":33},{"lon":83.23,"v":32},
{"lon":82.9,"v":36.5},{"lon":82.9,"v":35.5},{"lon":82.9,"v":34.5},
{"lon":82.1,"v":35.8},{"lon":82.1,"v":34.2}
],
"sec":[
{"lon":95.97,"v":20},{"lon":95.97,"v":6.7},{"lon":95.97,"v":5.7},
{"lon":95.58,"v":34},{"lon":95.58,"v":31},
{"lon":95.34,"v":33},{"lon":95.34,"v":26},{"lon":95.34,"v":21},{"lon":95.34,"v":19},{"lon":95.34,"v":6.4},{"lon":95.34,"v":4.9},{"lon":95.34,"v":4.3},{"lon":95.34,"v":3.9},
{"lon":95.05,"v":36},{"lon":95.05,"v":21},{"lon":95.05,"v":17},{"lon":95.05,"v":10.4},{"lon":95.05,"v":3.9},{"lon":95.05,"v":2.8},
{"lon":94.65,"v":36},{"lon":94.65,"v":34},{"lon":94.65,"v":6.4},{"lon":94.65,"v":5.6},{"lon":94.65,"v":3.4},{"lon":94.65,"v":2.9},{"lon":94.65,"v":2.4},
{"lon":94.38,"v":4.9},{"lon":94.38,"v":3.4},{"lon":94.38,"v":2.9},{"lon":94.38,"v":2.4},
{"lon":94.28,"v":30},{"lon":94.28,"v":20},{"lon":94.28,"v":17.6},{"lon":94.28,"v":6.7},{"lon":94.28,"v":1.8},
{"lon":94.01,"v":23},{"lon":94.01,"v":19},{"lon":94.01,"v":13},{"lon":94.01,"v":9.5},{"lon":94.01,"v":1.45},
{"lon":93.72,"v":10.4},{"lon":93.59,"v":4.5},{"lon":93.59,"v":3.9},
{"lon":93.39,"v":22},{"lon":93.39,"v":18},{"lon":93.39,"v":15},{"lon":93.39,"v":12},{"lon":93.39,"v":10},{"lon":93.39,"v":8},{"lon":93.39,"v":6.3},{"lon":93.39,"v":5},{"lon":93.39,"v":4},{"lon":93.39,"v":3.2},{"lon":93.39,"v":2.5},{"lon":93.39,"v":2},{"lon":93.39,"v":1.6},{"lon":93.39,"v":1.26},{"lon":93.39,"v":1.0},{"lon":93.39,"v":0.79},{"lon":93.39,"v":0.63},{"lon":93.39,"v":0.5},{"lon":93.39,"v":0.4},{"lon":93.39,"v":0.32},{"lon":93.39,"v":0.25},{"lon":93.39,"v":0.19},
{"lon":93.19,"v":25},{"lon":93.19,"v":20},{"lon":93.19,"v":16},{"lon":93.19,"v":12.6},{"lon":93.19,"v":10},{"lon":93.19,"v":8},{"lon":93.19,"v":6.3},{"lon":93.19,"v":5},{"lon":93.19,"v":4},{"lon":93.19,"v":3.2},{"lon":93.19,"v":2.5},
{"lon":93.03,"v":28},{"lon":93.03,"v":22},{"lon":93.03,"v":17.5},
{"lon":92.6,"v":20},{"lon":92.6,"v":16},{"lon":92.6,"v":12.6},{"lon":92.6,"v":10},{"lon":92.6,"v":8},{"lon":92.6,"v":6.3},
{"lon":92.4,"v":24},{"lon":92.4,"v":19},{"lon":92.4,"v":15},{"lon":92.4,"v":12},{"lon":92.4,"v":10},{"lon":92.4,"v":8},{"lon":92.4,"v":6.3},{"lon":92.4,"v":5},{"lon":92.4,"v":4},{"lon":92.4,"v":3.2},{"lon":92.4,"v":2.5},{"lon":92.4,"v":2},{"lon":92.4,"v":1.6},
{"lon":92.2,"v":25},{"lon":92.2,"v":20},{"lon":92.2,"v":16},{"lon":92.2,"v":12.6},{"lon":92.2,"v":10},{"lon":92.2,"v":8},{"lon":92.2,"v":6.3},{"lon":92.2,"v":5},{"lon":92.2,"v":4},{"lon":92.2,"v":3.2},{"lon":92.2,"v":2.5},{"lon":92.2,"v":2},{"lon":92.2,"v":1.6},{"lon":92.2,"v":1.26},{"lon":92.2,"v":1.0},{"lon":92.2,"v":0.79},{"lon":92.2,"v":0.63},{"lon":92.2,"v":0.5},{"lon":92.2,"v":0.4},{"lon":92.2,"v":0.32},
{"lon":92.07,"v":1.2},{"lon":92.07,"v":1.0},{"lon":92.07,"v":0.8},{"lon":92.07,"v":0.63},{"lon":92.07,"v":0.5},{"lon":92.07,"v":0.4},{"lon":92.07,"v":0.32},{"lon":92.07,"v":0.25},{"lon":92.07,"v":0.19},
{"lon":91.47,"v":22},{"lon":91.47,"v":17},{"lon":91.47,"v":13},{"lon":91.47,"v":10},{"lon":91.47,"v":8},{"lon":91.47,"v":6},{"lon":91.47,"v":4.5},{"lon":91.47,"v":3.5},{"lon":91.47,"v":2.7},{"lon":91.47,"v":2.1},{"lon":91.47,"v":1.6},{"lon":91.47,"v":1.3},{"lon":91.47,"v":1.0},{"lon":91.47,"v":0.5},
{"lon":91.27,"v":28},{"lon":91.27,"v":22},{"lon":91.27,"v":17.5},{"lon":91.27,"v":14},{"lon":91.27,"v":11},{"lon":91.27,"v":9},{"lon":91.27,"v":7},{"lon":91.27,"v":5.5},{"lon":91.27,"v":4.4},{"lon":91.27,"v":3.5},{"lon":91.27,"v":2.8},{"lon":91.27,"v":2.2},{"lon":91.27,"v":1.8},{"lon":91.27,"v":0.95},
{"lon":91.07,"v":28},{"lon":91.07,"v":20},{"lon":91.07,"v":14},{"lon":91.07,"v":10},{"lon":91.07,"v":7},{"lon":91.07,"v":5},{"lon":91.07,"v":3.6},{"lon":91.07,"v":0.6},
{"lon":90.6,"v":25},{"lon":90.6,"v":20},{"lon":90.6,"v":16},{"lon":90.6,"v":12.6},{"lon":90.6,"v":10},{"lon":90.6,"v":8},{"lon":90.6,"v":6.3},{"lon":90.6,"v":5},{"lon":90.6,"v":4},{"lon":90.6,"v":3.2},{"lon":90.6,"v":2.5},{"lon":90.6,"v":2},{"lon":90.6,"v":1.6},{"lon":90.6,"v":1.26},{"lon":90.6,"v":1.0},{"lon":90.6,"v":0.79},{"lon":90.6,"v":0.63},{"lon":90.6,"v":0.5},{"lon":90.6,"v":0.3},
{"lon":90.4,"v":35},{"lon":90.4,"v":28},{"lon":90.4,"v":22},{"lon":90.4,"v":18},{"lon":90.4,"v":14},{"lon":90.4,"v":11},{"lon":90.4,"v":9},{"lon":90.4,"v":7},{"lon":90.4,"v":5.6},{"lon":90.4,"v":4.5},{"lon":90.4,"v":3.5},{"lon":90.4,"v":2.8},{"lon":90.4,"v":2.2},{"lon":90.4,"v":1.8},{"lon":90.4,"v":1.4},{"lon":90.4,"v":1.1},{"lon":90.4,"v":0.9},{"lon":90.4,"v":0.7},{"lon":90.4,"v":0.56},{"lon":90.4,"v":0.45},{"lon":90.4,"v":0.3},{"lon":90.4,"v":0.19},{"lon":90.4,"v":0.1},
{"lon":90.2,"v":30},{"lon":90.2,"v":24},{"lon":90.2,"v":19},{"lon":90.2,"v":15},{"lon":90.2,"v":12},{"lon":90.2,"v":9.5},{"lon":90.2,"v":7.5},{"lon":90.2,"v":6},{"lon":90.2,"v":4.8},{"lon":90.2,"v":3.8},{"lon":90.2,"v":3},{"lon":90.2,"v":2.4},{"lon":90.2,"v":1.9},{"lon":90.2,"v":1.5},{"lon":90.2,"v":1.2},{"lon":90.2,"v":0.95},{"lon":90.2,"v":0.75},{"lon":90.2,"v":0.6},{"lon":90.2,"v":0.48},
{"lon":90.0,"v":32},{"lon":90.0,"v":25},{"lon":90.0,"v":20},{"lon":90.0,"v":16},{"lon":90.0,"v":12.6},{"lon":90.0,"v":10},{"lon":90.0,"v":8},{"lon":90.0,"v":6.3},{"lon":90.0,"v":5},{"lon":90.0,"v":4},{"lon":90.0,"v":3.2},{"lon":90.0,"v":2.5},{"lon":90.0,"v":2},{"lon":90.0,"v":1.6},{"lon":90.0,"v":1.26},
{"lon":89.68,"v":28},{"lon":89.68,"v":16},{"lon":89.68,"v":12},{"lon":89.68,"v":9},{"lon":89.68,"v":7},{"lon":89.68,"v":5},{"lon":89.68,"v":3.8},{"lon":89.68,"v":2.8},{"lon":89.68,"v":2.1},{"lon":89.68,"v":1.6},{"lon":89.68,"v":1.2},{"lon":89.68,"v":0.9},{"lon":89.68,"v":0.7},{"lon":89.68,"v":0.5},{"lon":89.68,"v":0.38},
{"lon":89.48,"v":10},{"lon":89.48,"v":8},{"lon":89.48,"v":6.3},{"lon":89.48,"v":5},{"lon":89.48,"v":4},{"lon":89.48,"v":3.2},{"lon":89.48,"v":2.5},{"lon":89.48,"v":2},{"lon":89.48,"v":1.6},{"lon":89.48,"v":1.26},{"lon":89.48,"v":1.0},{"lon":89.48,"v":0.79},{"lon":89.48,"v":0.63},{"lon":89.48,"v":0.5},{"lon":89.48,"v":0.4},{"lon":89.48,"v":0.32},{"lon":89.48,"v":0.25},{"lon":89.48,"v":0.2},{"lon":89.48,"v":0.16},{"lon":89.48,"v":0.13},{"lon":89.48,"v":0.1},{"lon":89.48,"v":0.08},{"lon":89.48,"v":0.065},{"lon":89.48,"v":0.046},
{"lon":89.28,"v":15},{"lon":89.28,"v":12},{"lon":89.28,"v":9.5},{"lon":89.28,"v":7.5},{"lon":89.28,"v":6},{"lon":89.28,"v":4.8},{"lon":89.28,"v":3.8},{"lon":89.28,"v":3},{"lon":89.28,"v":2.4},{"lon":89.28,"v":1.9},{"lon":89.28,"v":1.5},{"lon":89.28,"v":1.2},{"lon":89.28,"v":0.95},{"lon":89.28,"v":0.75},{"lon":89.28,"v":0.6},{"lon":89.28,"v":0.48},{"lon":89.28,"v":0.38},
{"lon":89.09,"v":20},{"lon":89.09,"v":14},{"lon":89.09,"v":8},{"lon":89.09,"v":6},{"lon":89.09,"v":4.5},{"lon":89.09,"v":3.4},{"lon":89.09,"v":2.6},{"lon":89.09,"v":2},{"lon":89.09,"v":1.5},{"lon":89.09,"v":1.1},{"lon":89.09,"v":0.8},{"lon":89.09,"v":0.6},{"lon":89.09,"v":0.45},{"lon":89.09,"v":0.35},{"lon":89.09,"v":0.19},
{"lon":88.62,"v":8},{"lon":88.62,"v":6.3},{"lon":88.62,"v":5},{"lon":88.62,"v":4},{"lon":88.62,"v":3.2},{"lon":88.62,"v":2.5},{"lon":88.62,"v":2},{"lon":88.62,"v":1.6},{"lon":88.62,"v":1.26},{"lon":88.62,"v":1.0},{"lon":88.62,"v":0.8},{"lon":88.62,"v":0.6},{"lon":88.62,"v":0.45},{"lon":88.62,"v":0.3},{"lon":88.62,"v":0.23},{"lon":88.62,"v":0.17},{"lon":88.62,"v":0.13},{"lon":88.62,"v":0.1},{"lon":88.62,"v":0.075},{"lon":88.62,"v":0.06},{"lon":88.62,"v":0.027},
{"lon":88.42,"v":35},{"lon":88.42,"v":28},{"lon":88.42,"v":22},{"lon":88.42,"v":18},{"lon":88.42,"v":14},{"lon":88.42,"v":11},{"lon":88.42,"v":9},{"lon":88.42,"v":7},{"lon":88.42,"v":5.6},{"lon":88.42,"v":4.5},{"lon":88.42,"v":3.5},{"lon":88.42,"v":2.8},{"lon":88.42,"v":2.2},{"lon":88.42,"v":1.8},{"lon":88.42,"v":1.4},{"lon":88.42,"v":1.1},
{"lon":88.23,"v":40},{"lon":88.23,"v":32},{"lon":88.23,"v":25},{"lon":88.23,"v":20},{"lon":88.23,"v":16},{"lon":88.23,"v":12.6},{"lon":88.23,"v":10},{"lon":88.23,"v":8},{"lon":88.23,"v":6.3},{"lon":88.23,"v":5},{"lon":88.23,"v":4},{"lon":88.23,"v":3.2},{"lon":88.23,"v":2.5},{"lon":88.23,"v":2},{"lon":88.23,"v":1.6},
{"lon":88.03,"v":38},{"lon":88.03,"v":30},{"lon":88.03,"v":24},{"lon":88.03,"v":19},{"lon":88.03,"v":15},{"lon":88.03,"v":12},{"lon":88.03,"v":9.5},{"lon":88.03,"v":7.5},{"lon":88.03,"v":6},{"lon":88.03,"v":4.8},{"lon":88.03,"v":3.8},{"lon":88.03,"v":3},{"lon":88.03,"v":2.4},{"lon":88.03,"v":1.9},{"lon":88.1,"v":0.48},
{"lon":87.56,"v":26},{"lon":87.56,"v":20},{"lon":87.56,"v":14},{"lon":87.56,"v":10},{"lon":87.56,"v":7.5},{"lon":87.56,"v":5.5},{"lon":87.56,"v":4},{"lon":87.56,"v":3.2},{"lon":87.56,"v":2.2},
{"lon":87.3,"v":24},{"lon":87.3,"v":19},{"lon":87.3,"v":15},{"lon":87.3,"v":12},{"lon":87.3,"v":9.5},{"lon":87.3,"v":7.5},{"lon":87.3,"v":6},{"lon":87.3,"v":4.5},{"lon":87.3,"v":3.5},
{"lon":87.03,"v":27},{"lon":87.03,"v":20},{"lon":87.03,"v":15},{"lon":87.03,"v":11},
{"lon":86.6,"v":16},{"lon":86.6,"v":12},{"lon":86.6,"v":9.5},{"lon":86.6,"v":3.0},
{"lon":86.24,"v":30},{"lon":86.24,"v":22},{"lon":86.24,"v":17},{"lon":86.24,"v":13},{"lon":86.24,"v":10},{"lon":86.24,"v":7.5},
{"lon":86.04,"v":15},{"lon":86.04,"v":11},{"lon":86.04,"v":1.6},
{"lon":85.58,"v":20},{"lon":85.58,"v":16},
{"lon":85.31,"v":40},{"lon":85.31,"v":32},{"lon":85.31,"v":25},{"lon":85.31,"v":20},{"lon":85.31,"v":16},{"lon":85.31,"v":13},{"lon":85.31,"v":11},
{"lon":85.05,"v":20},{"lon":85.05,"v":11},{"lon":85.05,"v":2.2},
{"lon":84.52,"v":15},{"lon":84.25,"v":30},{"lon":84.25,"v":25},{"lon":84.25,"v":20},{"lon":84.03,"v":32},{"lon":84.03,"v":26},{"lon":84.03,"v":16},
{"lon":83.26,"v":28},{"lon":83.26,"v":23},{"lon":83.26,"v":19},{"lon":83.26,"v":5.5},
{"lon":82.97,"v":28},{"lon":82.97,"v":22},{"lon":82.97,"v":16},{"lon":82.97,"v":12},{"lon":82.97,"v":9.5},{"lon":82.97,"v":7.5},{"lon":82.97,"v":6.5},
{"lon":82.27,"v":23},{"lon":82.27,"v":19},{"lon":82.27,"v":15},{"lon":82.27,"v":6},{"lon":82.27,"v":5},{"lon":82.27,"v":2.2},
{"lon":82.0,"v":15},{"lon":82.0,"v":11},{"lon":82.0,"v":8}
]
},
"concat":[
{"width":483,"height":354,
 "layer":[
  {"data":{"name":"mon"},"mark":{"type":"square","size":49,"color":"black","opacity":1},
   "encoding":{
    "x":{"field":"lon","type":"quantitative","scale":{"domain":[82,98],"reverse":true,"nice":false,"zero":false},"axis":{"values":[98,96,94,92,90,88,86,84,82],"labels":false,"title":null}},
    "y":{"field":"v","type":"quantitative","scale":{"domain":[0,12],"nice":false,"zero":false},"axis":{"values":[0,2,4,6,8,10,12],"labelExpr":"datum.value % 4 == 0 ? datum.label : ''","title":"Month"}}}},
  {"data":{"name":"regionsL"},"mark":{"type":"text","font":"DejaVu Sans","fontWeight":"bold","fontSize":28,"baseline":"middle","align":"center","color":"black"},
   "encoding":{"x":{"field":"lon","type":"quantitative","scale":{"domain":[82,98],"reverse":true,"nice":false,"zero":false}},
    "y":{"datum":13.26,"type":"quantitative","scale":{"domain":[0,12],"nice":false,"zero":false}},
    "text":{"field":"label"}}}
 ]},
{"width":483,"height":354,
 "layer":[
  {"data":{"name":"sil"},"mark":{"type":"point","shape":"triangle-up","filled":true,"size":80,"color":"black","opacity":1},
   "encoding":{
    "x":{"field":"lon","type":"quantitative","scale":{"domain":[82,98],"reverse":true,"nice":false,"zero":false},"axis":{"values":[98,96,94,92,90,88,86,84,82],"labels":false,"title":null}},
    "y":{"field":"v","type":"quantitative","scale":{"domain":[0,160],"nice":false,"zero":false},"axis":{"values":[0,20,40,60,80,100,120,140,160],"labelExpr":"datum.value % 40 == 0 ? datum.label : ''","title":"Silicate (µM)"}}}},
  {"data":{"name":"regionsR"},"mark":{"type":"text","font":"DejaVu Sans","fontWeight":"bold","fontSize":28,"baseline":"middle","align":"center","color":"black"},
   "encoding":{"x":{"field":"lon","type":"quantitative","scale":{"domain":[82,98],"reverse":true,"nice":false,"zero":false}},
    "y":{"datum":172.7,"type":"quantitative","scale":{"domain":[0,160],"nice":false,"zero":false}},
    "text":{"field":"label"}}}
 ]},
{"width":483,"height":347,
 "data":{"name":"sal"},"mark":{"type":"square","size":81,"color":"black","opacity":1},
 "encoding":{
  "x":{"field":"lon","type":"quantitative","scale":{"domain":[82,98],"reverse":true,"nice":false,"zero":false},"axis":{"values":[98,96,94,92,90,88,86,84,82],"labelExpr":"(98 - datum.value) % 4 == 0 ? datum.label : ''","title":"Longitude"}},
  "y":{"field":"v","type":"quantitative","scale":{"domain":[0,40],"nice":false,"zero":false},"axis":{"values":[0,5,10,15,20,25,30,35,40],"labelExpr":"datum.value % 10 == 0 ? datum.label : ''","title":"Salinity (ppt)"}}}},
{"width":483,"height":347,
 "layer":[
  {"data":{"name":"sec"},"mark":{"type":"square","size":81,"color":"black","opacity":1},
   "encoding":{
    "x":{"field":"lon","type":"quantitative","scale":{"domain":[82,98],"reverse":true,"nice":false,"zero":false},"axis":{"values":[98,96,94,92,90,88,86,84,82],"labelExpr":"(98 - datum.value) % 4 == 0 ? datum.label : ''","title":"Longitude"}},
    "y":{"field":"v","type":"quantitative","scale":{"type":"log","domain":[0.01,100],"nice":false},"axis":{"values":[0.01,0.05,0.1,0.5,1,5,10,50,100],"labelExpr":"datum.value == 100 ? '100' : datum.value == 10 ? '10' : datum.value == 1 ? '1' : datum.value == 0.1 ? '.1' : datum.value == 0.01 ? '.01' : ''","title":"Secchi Depth (m)"}}}},
  {"data":{"name":"refline"},"mark":{"type":"rule","color":"black","strokeDash":[2,2],"strokeWidth":2},
   "encoding":{"y":{"field":"v","type":"quantitative","scale":{"type":"log","domain":[0.01,100],"nice":false}}}}
 ]}
],
"config":{
 "view":{"stroke":null},
 "axis":{"grid":false,"domainColor":"black","domainWidth":2,"tickColor":"black","tickWidth":2,"tickSize":6,
  "labelFont":"Liberation Sans","labelFontWeight":"bold","labelFontSize":31,"labelColor":"black","labelPadding":3,
  "titleFont":"Liberation Sans","titleFontWeight":"bold","titleFontSize":36,"titleColor":"black","titlePadding":20},
 "axisX":{"labelPadding":8,"titlePadding":8,"labelFlush":false,"labelOverlap":false},
 "axisY":{"labelOverlap":false}
}
}
